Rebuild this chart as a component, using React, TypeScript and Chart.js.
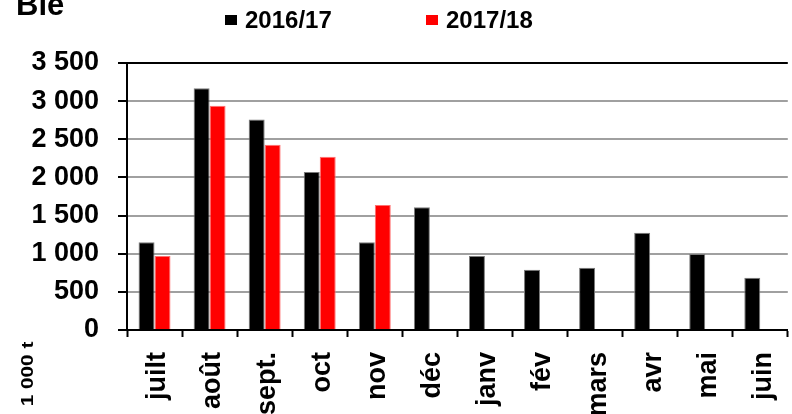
import React, { useEffect, useRef } from "react";
import { Chart, registerables } from "chart.js";

Chart.register(...registerables);

const months = ["juilt", "août", "sept.", "oct", "nov", "déc", "janv", "fév", "mars", "avr", "mai", "juin"];
const series1Label = "2016/17";
const series2Label = "2017/18";
const series1 = [1150, 3170, 2760, 2070, 1150, 1610, 970, 790, 815, 1275, 995, 685];
const series2 = [970, 2940, 2430, 2270, 1640, null, null, null, null, null, null, null];
const yTicks = [0, 500, 1000, 1500, 2000, 2500, 3000, 3500];
const titleText = "Blé";
const unitText = "1 000 t";

const FONT = '"Liberation Sans", Arial, sans-serif';

const fmt = (v: number) => String(v).replace(/\B(?=(\d{3})+(?!\d))/g, " ");

const decorPlugin = {
  id: "decor",
  afterDraw(chart: any) {
    const ctx = chart.ctx as CanvasRenderingContext2D;
    ctx.save();
    ctx.fillStyle = "#000";
    ctx.font = `bold 31px ${FONT}`;
    ctx.textAlign = "left";
    ctx.textBaseline = "alphabetic";
    ctx.fillText(titleText, 16, 15);
    const items = [
      { label: series1Label, color: "#000000", x: 225 },
      { label: series2Label, color: "#ff0000", x: 426 },
    ];
    ctx.font = `bold 24px ${FONT}`;
    for (const it of items) {
      ctx.fillStyle = it.color;
      ctx.fillRect(it.x, 15, 12, 10);
      ctx.fillStyle = "#000";
      ctx.fillText(it.label, it.x + 20, 28);
    }
    ctx.translate(32.5, 374);
    ctx.rotate(-Math.PI / 2);
    ctx.scale(1.22, 1);
    ctx.font = `bold 17px ${FONT}`;
    ctx.textAlign = "center";
    ctx.textBaseline = "alphabetic";
    ctx.fillText(unitText, 0, 0);
    ctx.restore();
  },
};

export default function App() {
  const ref = useRef<HTMLCanvasElement | null>(null);
  useEffect(() => {
    if (!ref.current) return;
    const chart = new Chart(ref.current, {
      type: "bar",
      data: {
        labels: months,
        datasets: [
          {
            label: series1Label,
            data: series1,
            backgroundColor: "#000000",
            borderColor: "#7a7a7a",
            borderWidth: 1,
            categoryPercentage: 0.58,
            barPercentage: 1,
          },
          {
            label: series2Label,
            data: series2 as any,
            backgroundColor: "#ff0000",
            borderColor: "#ff7070",
            borderWidth: 1,
            categoryPercentage: 0.58,
            barPercentage: 1,
          },
        ],
      },
      options: {
        responsive: false,
        animation: false,
        devicePixelRatio: 1,
        layout: { padding: { top: 63, right: 8, left: 0, bottom: 0 } },
        plugins: {
          legend: { display: false },
          tooltip: { enabled: false },
          title: { display: false },
        },
        scales: {
          x: {
            offset: true,
            grid: {
              offset: true,
              drawOnChartArea: false,
              drawTicks: true,
              tickLength: 7,
              tickColor: "#000",
              tickWidth: 2,
            },
            border: { display: true, color: "#000", width: 2 },
            ticks: {
              autoSkip: false,
              minRotation: 90,
              maxRotation: 90,
              padding: 15,
              labelOffset: 3,
              color: "#000",
              font: { family: FONT, size: 27, weight: "bold" },
            },
            afterFit: (scale: any) => {
              scale.height = 84;
            },
          },
          y: {
            min: 0,
            max: 3500,
            afterBuildTicks: (scale: any) => {
              scale.ticks = yTicks.map((v) => ({ value: v }));
            },
            grid: {
              color: (c: any) => (c.tick && (c.tick.value === 3500 || c.tick.value === 0) ? "#000" : "#a0a0a0"),
              lineWidth: 2,
              tickLength: 9,
              tickColor: "#000",
              tickWidth: 2,
            },
            border: { display: true, color: "#000", width: 2 },
            ticks: {
              padding: 19,
              color: "#000",
              font: { family: FONT, size: 27, weight: "bold" },
              callback: (v: any) => fmt(Number(v)),
            },
            afterFit: (scale: any) => {
              scale.width = 127;
            },
          },
        },
      },
      plugins: [decorPlugin],
    });
    return () => chart.destroy();
  }, []);
  return (
    <div
      style={{
        position: "fixed",
        left: 0,
        top: 0,
        width: 792,
        height: 414,
        overflow: "hidden",
        background: "#fff",
      }}
    >
      <canvas ref={ref} width={808} height={414} style={{ display: "block", width: 808, height: 414 }} />
    </div>
  );
}
